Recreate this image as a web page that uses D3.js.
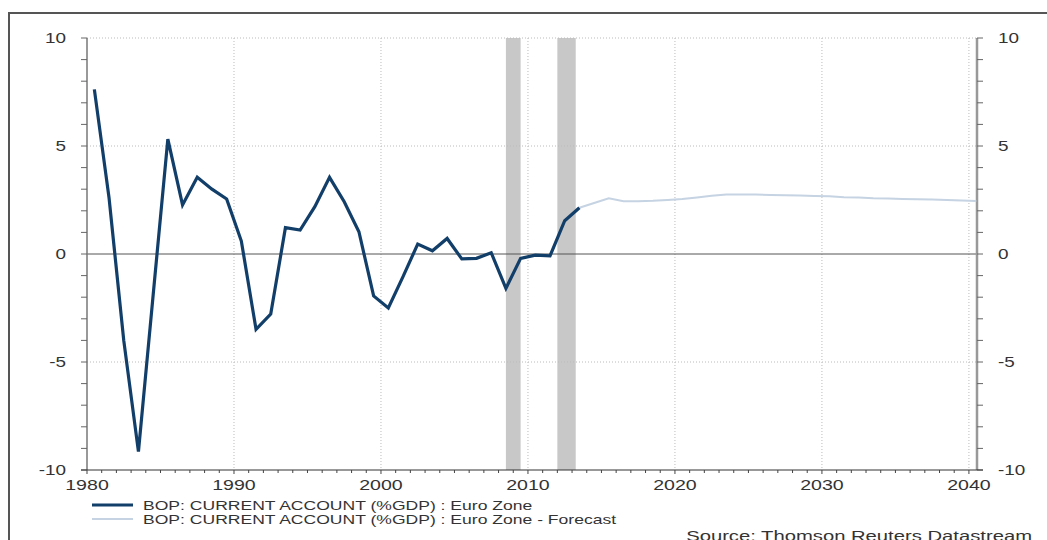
<!DOCTYPE html>
<html>
<head>
<meta charset="utf-8">
<script src="https://cdn.jsdelivr.net/npm/d3@7"></script>
<style>
  body { margin: 0; background: #fff; }
  svg { display: block; font-family: "Liberation Sans", Arial, sans-serif; }
</style>
</head>
<body>
<svg id="chart"></svg>
<script>
// data (annual, plotted at mid-year)
var histYears = d3.range(1980, 2014);
var histValues = [7.62, 2.6, -4.0, -9.15, -1.9, 5.32, 2.27, 3.55, 3.0, 2.55,
  0.6, -3.49, -2.78, 1.22, 1.11, 2.19, 3.55, 2.42, 1.03, -1.94,
  -2.5, -1.05, 0.46, 0.15, 0.72, -0.23, -0.2, 0.06, -1.59, -0.2,
  -0.05, -0.09, 1.54, 2.14];

var fcYears = d3.range(2013, 2041);
var fcValues = [2.14, 2.36, 2.58, 2.44, 2.44, 2.46, 2.50, 2.55, 2.62, 2.70,
  2.75, 2.76, 2.75, 2.73, 2.72, 2.71, 2.69, 2.67, 2.63, 2.61,
  2.58, 2.57, 2.55, 2.53, 2.52, 2.50, 2.48, 2.45];

var recessions = [[2008.5, 2009.5], [2012.0, 2013.25]];
var xTicks = [1980, 1990, 2000, 2010, 2020, 2030, 2040];
var yTicks = [-10, -5, 0, 5, 10];
var seriesNames = ["BOP: CURRENT ACCOUNT (%GDP) : Euro Zone",
  "BOP: CURRENT ACCOUNT (%GDP) : Euro Zone - Forecast"];
var source = "Source: Thomson Reuters Datastream";

var width = 1047, height = 540;
var sx = 1.35; // picture is stretched horizontally

var svg = d3.select("#chart").attr("width", width).attr("height", height);

var x = d3.scaleLinear().domain([1980, 2040.55]).range([87, 977]);
var y = d3.scaleLinear().domain([-10, 10]).range([470, 38]);

// frame
svg.append("path")
  .attr("d", "M9,540V13H1047")
  .attr("fill", "none").attr("stroke", "#555").attr("stroke-width", 2);

// recession bars
svg.selectAll(".rec").data(recessions).enter().append("rect")
  .attr("x", d => x(d[0]))
  .attr("width", d => x(d[1]) - x(d[0]))
  .attr("y", y(10)).attr("height", y(-10) - y(10))
  .attr("fill", "#c8c8c8");

// gridlines
svg.append("g").selectAll("line").data(xTicks.slice(1)).enter().append("line")
  .attr("x1", d => x(d)).attr("x2", d => x(d))
  .attr("y1", y(10)).attr("y2", y(-10))
  .attr("stroke", "#bbb").attr("stroke-dasharray", "1,2");

svg.append("g").selectAll("line").data([10, 5, -5]).enter().append("line")
  .attr("x1", x.range()[0]).attr("x2", x.range()[1])
  .attr("y1", d => y(d)).attr("y2", d => y(d))
  .attr("stroke", "#bbb").attr("stroke-dasharray", "1,2");

svg.append("line")
  .attr("x1", x.range()[0]).attr("x2", x.range()[1])
  .attr("y1", y(0)).attr("y2", y(0))
  .attr("stroke", "#555").attr("stroke-width", 1);

// left axis
var yMinor = d3.range(-10, 11);
var left = svg.append("g");
left.append("line").attr("x1", 87).attr("x2", 87).attr("y1", y(10)).attr("y2", y(-10))
  .attr("stroke", "#777").attr("stroke-width", 1.5);
left.selectAll(".t").data(yMinor).enter().append("line")
  .attr("x1", 81).attr("x2", 87).attr("y1", d => y(d)).attr("y2", d => y(d))
  .attr("stroke", "#666");

// right axis
var right = svg.append("g");
right.append("line").attr("x1", 977).attr("x2", 977).attr("y1", y(10)).attr("y2", y(-10))
  .attr("stroke", "#999").attr("stroke-width", 2.5);
right.selectAll(".t").data(yMinor).enter().append("line")
  .attr("x1", 977).attr("x2", 983).attr("y1", d => y(d)).attr("y2", d => y(d))
  .attr("stroke", "#666");

// bottom axis
var bottom = svg.append("g");
bottom.append("line").attr("x1", 81).attr("x2", 983).attr("y1", y(-10)).attr("y2", y(-10))
  .attr("stroke", "#333").attr("stroke-width", 1);
bottom.selectAll(".t").data(d3.range(1980, 2041)).enter().append("line")
  .attr("x1", d => x(d)).attr("x2", d => x(d))
  .attr("y1", y(-10)).attr("y2", d => y(-10) + (d % 10 === 0 ? 4 : 3))
  .attr("stroke", "#444");

function label(g, txt, px, py, anchor, size, color) {
  g.append("text")
    .attr("transform", `translate(${px},${py}) scale(${sx},1)`)
    .attr("text-anchor", anchor)
    .attr("font-size", size)
    .attr("fill", color || "#333")
    .text(txt);
}

yTicks.forEach(function(v) {
  label(svg, v, 66, y(v) + 5, "end", 14);
  label(svg, v, 998, y(v) + 5, "start", 14);
});
xTicks.forEach(function(v) {
  label(svg, v, x(v), 490, "middle", 14.5);
});

// lines
var line = d3.line().x(d => x(d[0] + 0.5)).y(d => y(d[1]));

svg.append("path")
  .attr("d", line(fcYears.map((yr, i) => [yr, fcValues[i]])))
  .attr("fill", "none").attr("stroke", "#c5d3e2").attr("stroke-width", 2);

svg.append("path")
  .attr("d", line(histYears.map((yr, i) => [yr, histValues[i]])))
  .attr("fill", "none").attr("stroke", "#123e6a").attr("stroke-width", 3.2)
  .attr("stroke-linejoin", "miter");

// legend
var legColors = ["#123e6a", "#c5d3e2"];
var legWidths = [3, 2];
seriesNames.forEach(function(name, i) {
  var ly = 505 + i * 14;
  svg.append("line").attr("x1", 92).attr("x2", 133).attr("y1", ly).attr("y2", ly)
    .attr("stroke", legColors[i]).attr("stroke-width", legWidths[i]);
  label(svg, name, 143, ly + 5, "start", 13);
});

label(svg, source, 1032, 541, "end", 15);
</script>
</body>
</html>
